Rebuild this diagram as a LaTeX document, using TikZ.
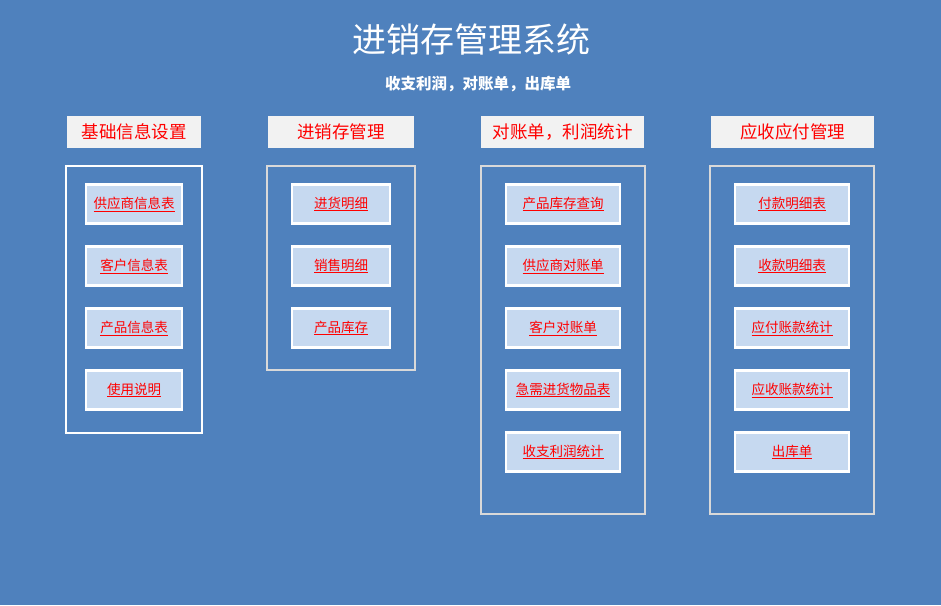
\documentclass[tikz,border=0pt]{standalone}
\usepackage{fontspec}
\setmainfont{Noto Sans CJK SC}
\definecolor{bgblue}{HTML}{4F81BD}
\definecolor{btnblue}{HTML}{C6D9F0}
\definecolor{hdgray}{HTML}{F2F2F2}
\definecolor{frmgray}{HTML}{D9D9D9}
\begin{document}
\begin{tikzpicture}[x=1pt,y=-1pt,
    header/.style={fill=hdgray, text=red, font=\fontsize{17.5}{17.5}\selectfont, minimum height=32pt, inner sep=0pt},
    btn/.style={fill=btnblue, draw=white, line width=2.5pt, text=red, font=\fontsize{13.5}{14}\selectfont, minimum height=39pt, inner sep=0pt},
    frame/.style={line width=2.2pt}]
  \fill [bgblue] (0, 0) rectangle (941, 605);
  \useasboundingbox (0, 0) rectangle (941, 605);

  \node (title) [text=white, font=\fontsize{34}{34}\selectfont] at (471, 40) {进销存管理系统};
  \node (sub) [text=white, font=\fontsize{15.5}{15.5}\selectfont\bfseries] at (478, 84) {收支利润，对账单，出库单};

  % headers
  \node (h1) [header, minimum width=134pt] at (134, 132) {基础信息设置};
  \node (h2) [header, minimum width=146pt] at (341, 132) {进销存管理};
  \node (h3) [header, minimum width=163pt] at (562.5, 132) {对账单，利润统计};
  \node (h4) [header, minimum width=163pt] at (792.5, 132) {应收应付管理};

  % frames
  \draw [frame, white] (66, 166) rectangle (202, 433);
  \draw [frame, frmgray] (267, 166) rectangle (415, 370);
  \draw [frame, frmgray] (481, 166) rectangle (645, 514);
  \draw [frame, frmgray] (710, 166) rectangle (874, 514);

  % buttons
  \foreach \t [count=\i] in {供应商信息表, 客户信息表, 产品信息表, 使用说明}
    \node (b1\i) [btn, minimum width=96pt] at (134, 142 + 62*\i) {\underline{\t}};
  \foreach \t [count=\i] in {进货明细, 销售明细, 产品库存}
    \node (b2\i) [btn, minimum width=98pt] at (341, 142 + 62*\i) {\underline{\t}};
  \foreach \t [count=\i] in {产品库存查询, 供应商对账单, 客户对账单, 急需进货物品表, 收支利润统计}
    \node (b3\i) [btn, minimum width=114pt] at (563, 142 + 62*\i) {\underline{\t}};
  \foreach \t [count=\i] in {付款明细表, 收款明细表, 应付账款统计, 应收账款统计, 出库单}
    \node (b4\i) [btn, minimum width=114pt] at (792, 142 + 62*\i) {\underline{\t}};
\end{tikzpicture}
\end{document}
